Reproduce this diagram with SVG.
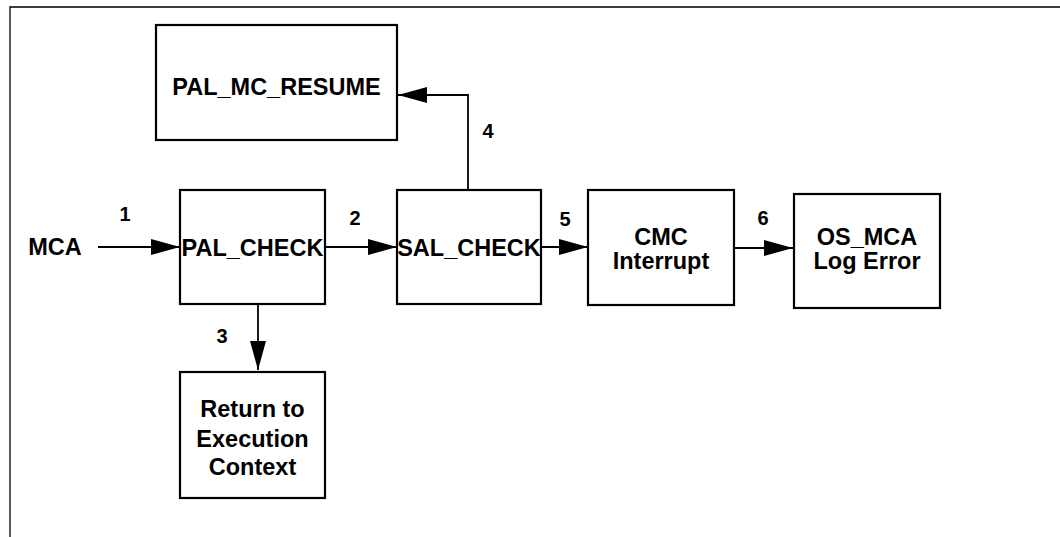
<svg xmlns="http://www.w3.org/2000/svg" width="1060" height="537" viewBox="0 0 1060 537">
<style>
.box{fill:#fff;stroke:#000;stroke-width:2.2}
.lbl{font-family:"Liberation Sans",Arial,sans-serif;font-weight:bold;font-size:23.5px;fill:#000;text-anchor:middle}
.num{font-family:"Liberation Sans",Arial,sans-serif;font-weight:bold;font-size:20px;fill:#000;text-anchor:middle}
.conn{fill:none;stroke:#000;stroke-width:1.8;marker-end:url(#ah)}
.frame{fill:none;stroke:#000;stroke-width:1.3}
</style>
<defs>
<marker id="ah" markerUnits="userSpaceOnUse" markerWidth="30" markerHeight="17" refX="29" refY="8" orient="auto">
<path d="M0,0 L29,8 L0,16 z" fill="#000"/>
</marker>
</defs>
<rect width="1060" height="537" fill="#fff"/>
<path class="frame" d="M10,537 V7 H1060"/>
<g id="connectors">
<line class="conn" x1="98" y1="247" x2="180" y2="247"/>
<line class="conn" x1="325" y1="247" x2="397" y2="247"/>
<line class="conn" x1="258" y1="304" x2="258" y2="370"/>
<path class="conn" d="M468,190 V95 H398"/>
<line class="conn" x1="541" y1="247" x2="588" y2="247"/>
<line class="conn" x1="734" y1="248" x2="793" y2="248"/>
<text class="num" x="125" y="221">1</text>
<text class="num" x="355" y="225">2</text>
<text class="num" x="222" y="343">3</text>
<text class="num" x="488" y="138">4</text>
<text class="num" x="565" y="226">5</text>
<text class="num" x="763" y="225">6</text>
</g>
<g id="mca"><text class="lbl" x="55" y="255">MCA</text></g>
<g id="pal_mc_resume">
<rect class="box" x="156" y="25" width="241" height="115"/>
<text class="lbl" x="276.5" y="95">PAL_MC_RESUME</text>
</g>
<g id="pal_check">
<rect class="box" x="180" y="190" width="145" height="114"/>
<text class="lbl" x="252.5" y="256">PAL_CHECK</text>
</g>
<g id="sal_check">
<rect class="box" x="397" y="190" width="144" height="114"/>
<text class="lbl" x="469" y="256">SAL_CHECK</text>
</g>
<g id="cmc_interrupt">
<rect class="box" x="588" y="190" width="146" height="115"/>
<text class="lbl" x="661" y="245">CMC</text>
<text class="lbl" x="661" y="269">Interrupt</text>
</g>
<g id="os_mca">
<rect class="box" x="794" y="194" width="146" height="114"/>
<text class="lbl" x="867" y="245">OS_MCA</text>
<text class="lbl" x="867" y="269">Log Error</text>
</g>
<g id="return_ctx">
<rect class="box" x="180" y="372" width="145" height="126"/>
<text class="lbl" x="252.5" y="417">Return to</text>
<text class="lbl" x="252.5" y="447">Execution</text>
<text class="lbl" x="252.5" y="475">Context</text>
</g>
</svg>
